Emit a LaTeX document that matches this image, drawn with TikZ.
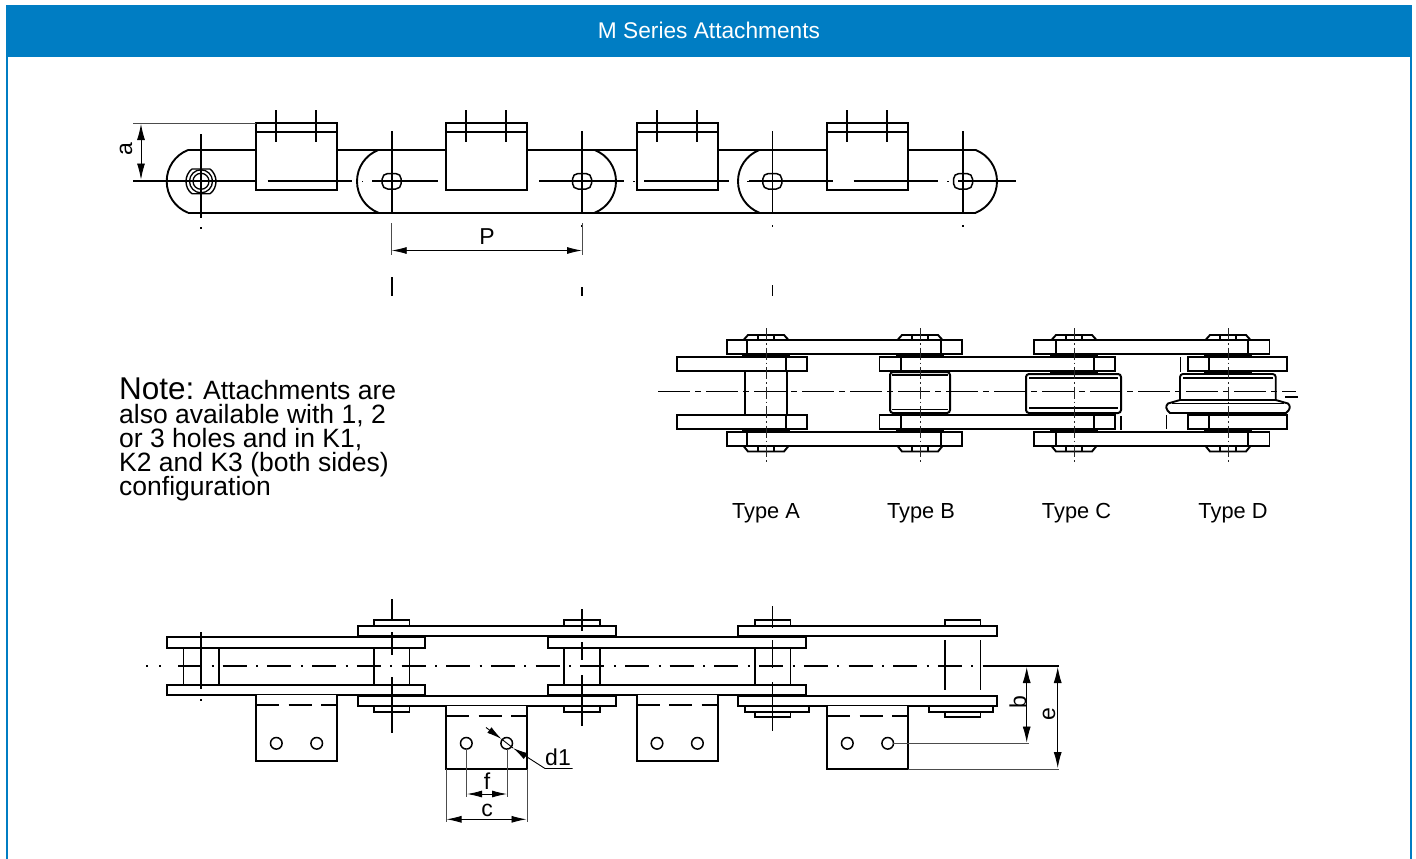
\documentclass[tikz,border=0pt]{standalone}
\usepackage{fontspec}
\setmainfont{Liberation Sans}
\usetikzlibrary{arrows.meta}
\definecolor{hdr}{RGB}{0,125,195}
\tikzset{
 ln/.style={line width=1.9pt,black},
 thin ln/.style={line width=1.2pt,black},
 ext/.style={line width=1pt,black!70},
 cl/.style={line width=1.6pt,black,dash pattern=on 24pt off 9.5pt on 2pt off 9.2pt},
 cl2/.style={line width=1.3pt,black,dash pattern=on 32pt off 5pt on 6pt off 5pt},
 pinv/.style={line width=1.6pt,black},
 plate/.style={ln,fill=white},
 dim/.style={line width=0.9pt,black,{Latex[length=16pt,width=8pt]}-{Latex[length=16pt,width=8pt]}},
 dimh/.style={line width=0.9pt,black,{Latex[length=15pt,width=7pt]}-{Latex[length=15pt,width=7pt]}},
 lab/.style={inner sep=0pt,font=\fontsize{23}{23}\selectfont},
 typ/.style={inner sep=0pt,font=\fontsize{21.8}{21.8}\selectfont},
 notefont/.style={inner sep=0pt,anchor=base west,font=\fontsize{26.5}{26.5}\selectfont},
}
\newcommand{\attachtop}[1]{%
 \draw[plate] (#1,123.3) rectangle (#1+81,189.7);
 \draw[ln] (#1,131.7) -- (#1+81,131.7);
 \draw[pinv] (#1+20,110) -- (#1+20,142) (#1+60,110) -- (#1+60,142);
}
\newcommand{\slotmark}[1]{%
 \draw[line width=1.5pt,rounded corners=5.5pt] (#1-9.5,173.5) rectangle (#1+9.5,189);
 \draw[pinv] (#1,131) -- (#1,214);
 \fill (#1-0.7,224.5) rectangle (#1+0.7,226.5);
}
\newcommand{\plateL}[1]{%
 \draw[ln] (#1+21.3,150) .. controls (#1+8.4,155.1) and (#1,167.4) .. (#1,181.3) .. controls (#1,195.2) and (#1+8.4,207.6) .. (#1+21.3,212.7);
}
\newcommand{\plateR}[1]{%
 \draw[ln] (#1-21.3,150) .. controls (#1-8.4,155.1) and (#1,167.4) .. (#1,181.3) .. controls (#1,195.2) and (#1-8.4,207.6) .. (#1-21.3,212.7);
}
\newcommand{\sidepin}[1]{%
 \draw[ln] (#1-22.5,340) -- (#1-18,335) -- (#1+18,335) -- (#1+22.5,340);
 \draw[ln] (#1-22.5,446) -- (#1-18,451.5) -- (#1+18,451.5) -- (#1+22.5,446);
 \draw[thin ln] (#1-8,335) -- (#1-8,340) (#1+8,335) -- (#1+8,340);
 \draw[thin ln] (#1-8,446) -- (#1-8,451.5) (#1+8,446) -- (#1+8,451.5);
}
\newcommand{\sidepv}[1]{%
 \draw[line width=1pt,black!85,dash pattern=on 12pt off 3pt on 1.5pt off 3pt] (#1,328) -- (#1,464);
}
\begin{document}
\begin{tikzpicture}[x=1pt,y=-1pt]
\useasboundingbox (0,0) rectangle (1416,859);
\fill[white] (0,0) rectangle (1416,859);
% frame
\draw[hdr,line width=2.4pt] (7.2,30) -- (7.2,859) (1410.8,30) -- (1410.8,859);
\fill[hdr] (6,5) rectangle (1412,57.5);
\node[inner sep=0pt,text=white,font=\fontsize{22.7}{22.7}\selectfont] (title) at (709,30.5) {M Series Attachments};

% ---------- TOP VIEW ----------
\plateL{166.7}\plateL{357}\plateL{738}
\plateR{616}\plateR{997}
\draw[ln] (188,150) -- (976,150) (188,212.7) -- (976,212.7);
% centre line
\draw[ln] (133,181.3) -- (258,181.3);
\draw[ln] (267.5,181.3) -- (352,181.3);
\fill (361.5,180.5) rectangle (363,182.1);
\draw[ln] (372,181.3) -- (438,181.3);
\draw[ln] (539,181.3) -- (624,181.3);
\fill (633,180.5) rectangle (634.5,182.1);
\draw[ln] (644,181.3) -- (729,181.3);
\fill (747,180.5) rectangle (748.5,182.1);
\draw[ln] (749,181.3) -- (833,181.3);
\fill (842.5,180.5) rectangle (844,182.1);
\draw[ln] (853.5,181.3) -- (938,181.3);
\fill (947,180.5) rectangle (948.5,182.1);
\draw[ln] (958,181.3) -- (1016,181.3);
% attachments
\attachtop{255.7}\attachtop{446}\attachtop{636.7}\attachtop{827}
\draw[ln] (267.5,181.3) -- (336.7,181.3);
\draw[ln] (644,181.3) -- (717.7,181.3) (827,181.3) -- (833,181.3) (853.5,181.3) -- (908,181.3);
% first pin with nut
\draw[line width=1.4pt] (192,169) -- (210,169) .. controls (214,172) and (216,177) .. (216,181.3) .. controls (216,186) and (214,191) .. (210,193.7) -- (192,193.7) .. controls (188,191) and (186,186) .. (186,181.3) .. controls (186,177) and (188,172) .. (192,169) -- cycle;
\draw[line width=1.3pt] (201,181.3) circle[radius=8];
\draw[line width=1.3pt] (201,181.3) circle[radius=11.5];
\draw[pinv] (201,134) -- (201,218);
\fill (200.3,227) rectangle (201.7,229);
\slotmark{391.7}\slotmark{582}\slotmark{772.3}\slotmark{963}
% P dimension
\draw[ext] (391.7,223) -- (391.7,255) (582,223) -- (582,255);
\draw[dimh] (391.7,250.5) -- (582,250.5);
\node[lab] (P) at (487,237) {P};
\draw[line width=1.6pt] (391.7,277) -- (391.7,296);
\draw[line width=1.6pt] (582,287) -- (582,296);
\draw[line width=1.6pt] (772.3,285) -- (772.3,296);
% a dimension
\draw[ext] (133,123.3) -- (255.7,123.3);
\draw[dim] (141,124) -- (141,179.5);
\node[lab,rotate=90] (a) at (126,149) {a};

% ---------- NOTE ----------
\node[inner sep=0pt,anchor=base west,font=\fontsize{31.5}{31.5}\selectfont] (note0) at (119,399) {Note:};
\node[notefont] (note1) at (203,399) {Attachments are};
\node[notefont] (note2) at (119,423) {also available with 1, 2};
\node[notefont] (note3) at (119,447) {or 3 holes and in K1,};
\node[notefont] (note4) at (119,471) {K2 and K3 (both sides)};
\node[notefont] (note5) at (119,495) {configuration};

% ---------- SIDE VIEW ----------
\draw[cl2] (658,391.3) -- (1296,391.3);
\draw[ln] (745,371) -- (745,415) (787,371) -- (787,415);
% rollers
\draw[line width=2pt,rounded corners=3pt] (890,372) rectangle (950,413);
\draw[thin ln] (892,375) -- (948,375) (892,409.5) -- (948,409.5);
\draw[line width=2pt,rounded corners=3pt] (1026,374) rectangle (1121,413);
\draw[thin ln] (1029,378) -- (1118,378) (1029,408) -- (1118,408);
\draw[ln,rounded corners=3pt] (1180,400) -- (1180,374) -- (1275.7,374) -- (1275.7,400);
\draw[thin ln] (1183,378) -- (1273,378);
\draw[ln,fill=white] (1180,400) -- (1275.7,400) -- (1288,403.5) .. controls (1291,406) and (1290,410) .. (1286,413) -- (1170,413) .. controls (1166,410) and (1165,406) .. (1168,403.5) -- cycle;
\draw[thin ln] (1172,403.5) -- (1284,403.5);
% marks near type C/D
\draw[thin ln] (1180.5,357) -- (1180.5,372);
\draw[thin ln] (1121,416) -- (1121,430) (1166.5,415) -- (1166.5,429);
\draw[thin ln] (1285,397) -- (1298,397);
% inner plates
\draw[plate] (677,357) rectangle (807,371);
\draw[plate] (677,415) rectangle (807,429.3);
\draw[ln] (786,357) -- (786,371) (786,415) -- (786,429.3);
\draw[plate] (879.5,357) rectangle (1115,371);
\draw[plate] (879.5,415) rectangle (1115,429.3);
\draw[ln] (900.7,357) -- (900.7,371) (900.7,415) -- (900.7,429.3) (1093.7,357) -- (1093.7,371) (1093.7,415) -- (1093.7,429.3);
\draw[plate] (1187.7,357) rectangle (1287,371);
\draw[plate] (1187.7,415) rectangle (1287,429.3);
\draw[ln] (1209,357) -- (1209,371) (1209,415) -- (1209,429.3);
% pin collars between plates
\foreach \x in {766,920,1074,1228} {
 \draw[thin ln] (\x-24,355.5) -- (\x+24,355.5) (\x-24,430.5) -- (\x+24,430.5);
}
\foreach \x in {920,1074,1228} {
 \draw[thin ln] (\x-24,372) -- (\x+24,372) (\x-24,414) -- (\x+24,414);
}
% outer plates
\draw[plate] (727,340) rectangle (962,354.3);
\draw[plate] (727,431.7) rectangle (962,446);
\draw[ln] (747,340) -- (747,354.3) (941,340) -- (941,354.3) (747,431.7) -- (747,446) (941,431.7) -- (941,446);
\draw[plate] (1034,340) rectangle (1269.5,354.3);
\draw[plate] (1034,431.7) rectangle (1269.5,446);
\draw[ln] (1055.7,340) -- (1055.7,354.3) (1248,340) -- (1248,354.3) (1055.7,431.7) -- (1055.7,446) (1248,431.7) -- (1248,446);
\sidepin{766}\sidepin{920}\sidepin{1074}\sidepin{1228}
\sidepv{766}\sidepv{920}\sidepv{1074}\sidepv{1228}
\node[typ] (ta) at (766,513) {Type A};
\node[typ] (tb) at (921,513) {Type B};
\node[typ] (tc) at (1076.5,513) {Type C};
\node[typ] (td) at (1233,513) {Type D};

% ---------- BOTTOM VIEW ----------
\foreach \x in {183.5,374,564.3,755,945} \draw[ln] (\x,640) -- (\x,690) (\x+35.5,640) -- (\x+35.5,690);
% heads
\foreach \x in {374,564.3,755,945} \draw[ln] (\x,625.7) -- (\x,620.3) -- (\x+35.5,620.3) -- (\x+35.5,625.7);
% centre line
\fill (146,665.2) rectangle (148,666.8);
\fill (159,665.2) rectangle (161,666.8);
\draw[cl] (178,666) -- (1000,666);
\draw[line width=1.6pt] (985,666) -- (1059,666);
% plates
\draw[plate] (167,637) rectangle (425,647.7);
\draw[plate] (167,684.7) rectangle (425,695);
\draw[plate] (548,637) rectangle (806,647.7);
\draw[plate] (548,684.7) rectangle (806,695);
\draw[plate] (357.7,625.7) rectangle (616,636);
\draw[plate] (357.7,696) rectangle (616,706);
\draw[plate] (738,625.7) rectangle (996.7,636);
\draw[plate] (738,696) rectangle (996.7,706);
% lower heads / washers
\draw[ln] (374,706) rectangle (409.5,711.7);
\draw[ln] (564.3,706) rectangle (599.8,711.7);
\draw[ln] (745,706) rectangle (809,711.7);
\draw[ln] (755,711.7) rectangle (790.5,716.7);
\draw[ln] (929,706) rectangle (993,711.7);
\draw[ln] (945,711.7) rectangle (980.5,716.7);
% pin axes
\draw[pinv] (201,632) -- (201,689);
\fill (200.3,699) rectangle (201.7,701);
\draw[pinv] (391.7,599) -- (391.7,621) (391.7,632) -- (391.7,655) (391.7,677) -- (391.7,733);
\draw[pinv] (582,609) -- (582,631) (582,642) -- (582,660) (582,675) -- (582,726);
\draw[pinv] (772.3,606) -- (772.3,628) (772.3,640) -- (772.3,668) (772.3,682) -- (772.3,731);
% attachments
\foreach \x/\yt/\yb/\yd in {256/695/760.7/705.3,446/706/769/716,636.7/695/760.7/705.3,827/706/769/716} {
 \draw[plate] (\x,\yt) -- (\x,\yb) -- (\x+81,\yb) -- (\x+81,\yt);
 \draw[ln,dash pattern=on 23pt off 9.5pt] (\x,\yd) -- (\x+81,\yd);
 \draw[line width=1.5pt] (\x+20.3,743.3) circle[radius=5.8];
 \draw[line width=1.5pt] (\x+60.7,743.3) circle[radius=5.8];
}
% f
\draw[ext] (466.7,749) -- (466.7,797) (507,749) -- (507,797);
\draw[dimh] (467,794) -- (507,794);
\node[lab] (f) at (487,781) {f};
% c
\draw[ext] (446,769) -- (446,822) (527,769) -- (527,822);
\draw[dimh] (446.5,819.3) -- (526.5,819.3);
\node[lab] (c) at (487,810) {c};
% d1
\draw[line width=0.9pt,black,-{Latex[length=15pt,width=7pt]}] (486,727.5) -- (501.5,739);
\draw[line width=0.9pt,black] (501.5,739) -- (513,748);
\draw[line width=0.9pt,black,{Latex[length=15pt,width=7pt]}-] (513,748) -- (545,768.5) -- (572.7,768.5);
\node[lab,anchor=base] (d1) at (558,765.5) {d1};
% b, e
\draw[ext] (893,743.3) -- (1029,743.3);
\draw[ext] (908,769) -- (1059,769);
\draw[dim] (1026.7,667) -- (1026.7,742.5);
\draw[dim] (1057.7,667) -- (1057.7,768);
\node[lab,rotate=90] (b) at (1018,702) {b};
\node[lab,rotate=90] (e) at (1049,714) {e};
\end{tikzpicture}
\end{document}
